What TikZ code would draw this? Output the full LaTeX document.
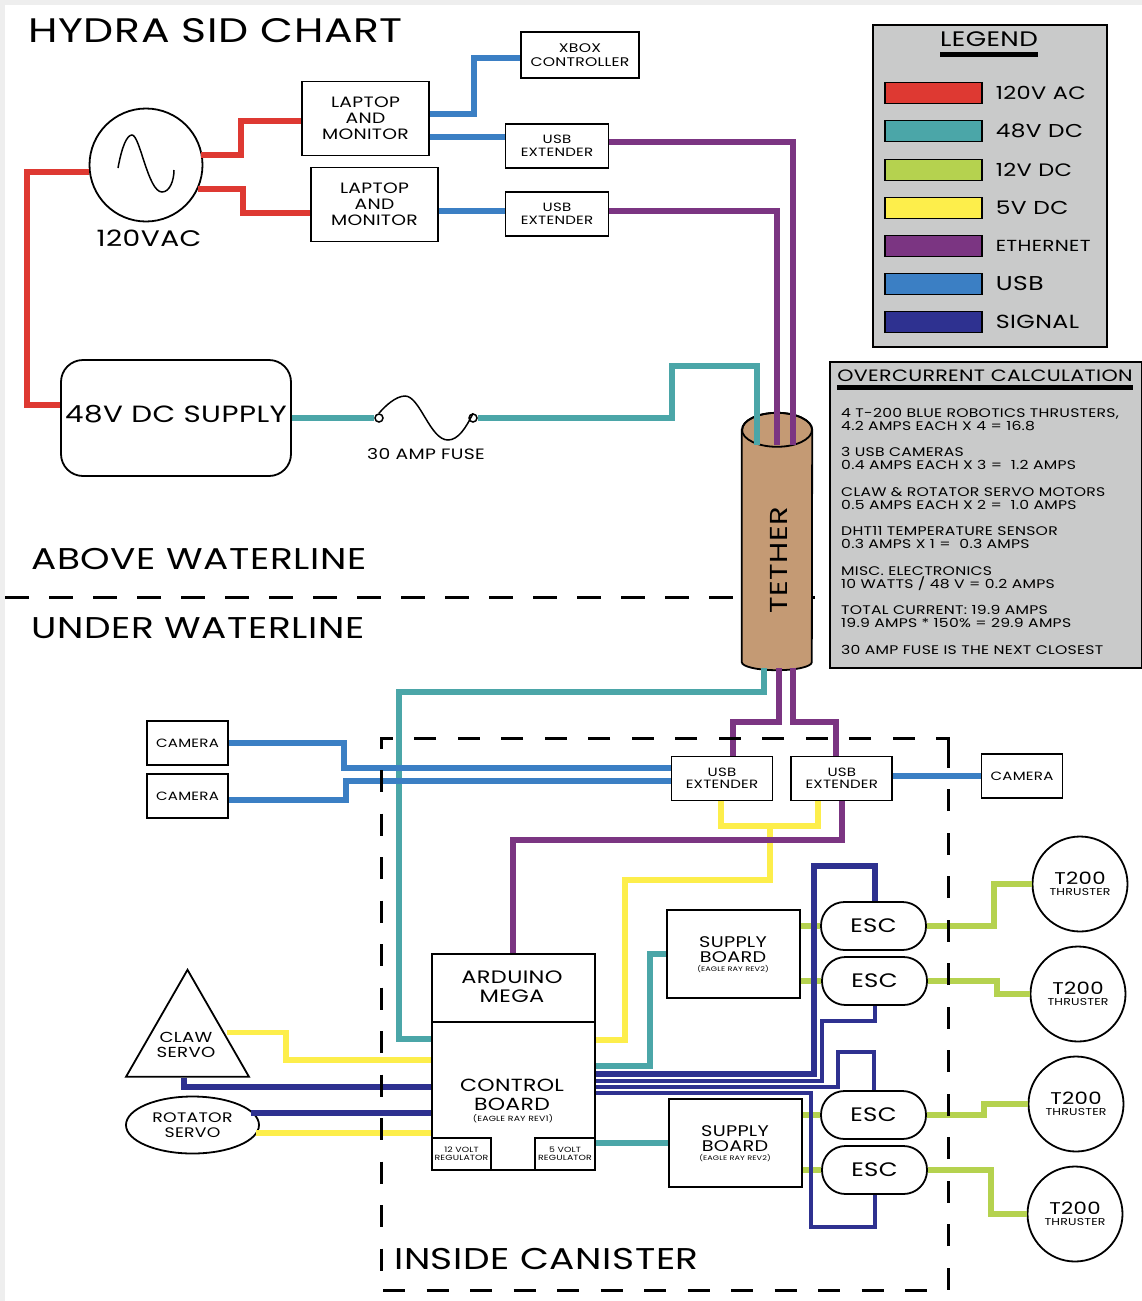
\documentclass[tikz,border=0pt]{standalone}
\usepackage{fontspec}
\setmainfont{Poppins}[LetterSpace=2, FakeStretch=1.25]
\definecolor{pagegrey}{RGB}{238, 238, 238}
\definecolor{panelgrey}{RGB}{201, 202, 202}
\definecolor{wirered}{RGB}{222, 57, 50}
\definecolor{wireteal}{RGB}{75, 166, 168}
\definecolor{wirelime}{RGB}{181, 210, 79}
\definecolor{wireyellow}{RGB}{253, 238, 75}
\definecolor{wirepurple}{RGB}{123, 53, 130}
\definecolor{wireblue}{RGB}{59, 127, 196}
\definecolor{wirenavy}{RGB}{46, 49, 144}
\definecolor{tethertan}{RGB}{196, 154, 116}
\usepackage{tikz}
\usetikzlibrary{positioning, shapes.geometric, calc}
\newcommand{\fsz}[2]{\fontsize{#1}{#2}\selectfont}

\begin{document}
\begin{tikzpicture}[x=1pt, y=-1pt, every node/.style={inner sep=0pt, align=center},
    box/.style={draw, line width=1.8pt, fill=white},
    usbbox/.style={box, minimum width=103pt, minimum height=44pt, font=\fsz{12}{12.5}},
    cambox/.style={box, minimum width=81pt, minimum height=44pt, font=\fsz{12}{13}},
    lapbox/.style={box, minimum width=127pt, minimum height=74pt, font=\fsz{15}{16}},
    supplybox/.style={box, minimum width=133pt, minimum height=88pt},
    boardtext/.style={font=\fsz{15.4}{15}},
    revtext/.style={font=\fsz{6.5}{7}},
    escbox/.style={box, minimum width=105pt, minimum height=48pt, rounded corners=23.5pt, font=\fsz{19.5}{21}},
    thruster/.style={draw, circle, line width=1.8pt, fill=white, minimum size=95pt, font=\fsz{17}{11}},
    bigtext/.style={font=\fsz{30}{30}, anchor=west},
    swatch/.style={draw, line width=1.4pt, minimum width=97pt, minimum height=21pt},
    wire/.style={line width=5.5pt},
    acwire/.style={wire, wirered},
    dcwire/.style={wire, wireteal},
    limewire/.style={wire, wirelime},
    fivewire/.style={wire, wireyellow},
    ethwire/.style={wire, wirepurple},
    usbwire/.style={wire, wireblue},
    sigwire/.style={wire, wirenavy},
    thinsig/.style={line width=3.5pt, wirenavy}]
    % Page
    \fill[pagegrey] (0,0) rectangle (1142,1301);
    \fill[white] (5,5) rectangle (1142,1301);
    \useasboundingbox (0,0) rectangle (1142,1301);

    % Titles
    \node[bigtext, font=\fsz{34}{34}] (title) at (28,31) {HYDRA SID CHART};
    \node[bigtext] (above) at (31,559) {ABOVE WATERLINE};
    \node[bigtext] (under) at (31,628) {UNDER WATERLINE};
    \node[bigtext] (inside) at (394,1259) {INSIDE CANISTER};

    % Surface side
    \node[draw, ellipse, line width=1.8pt, fill=white, minimum width=113pt, minimum height=113pt] (mains) at (146,165) {};
    \node[font=\fsz{22.5}{24}, below=7pt of mains, xshift=3pt] (mainslabel) {120VAC};
    \node[box, minimum width=118pt, minimum height=46pt, font=\fsz{12.5}{13.5}] (xbox) at (580,55) {XBOX\\CONTROLLER};
    \node[lapbox] (lapa) at (365.5,118.5) {LAPTOP\\AND\\MONITOR};
    \node[lapbox] (lapb) at (374.5,204.5) {LAPTOP\\AND\\MONITOR};
    \node[usbbox] (usba) at (557,146) {USB\\EXTENDER};
    \node[usbbox] (usbb) at (557,214) {USB\\EXTENDER};
    \node[box, minimum width=230pt, minimum height=116pt, rounded corners=22pt] (supply) at (176,418) {};
    \node[font=\fsz{23.5}{25}] (supplylabel) at (176,414) {48V DC SUPPLY};
    \node[font=\fsz{15}{15}] (fuselabel) at (426,454) {30 AMP FUSE};
    \node[draw, circle, line width=1.5pt, minimum size=8pt] (fusea) at (379,418) {};
    \node[draw, circle, line width=1.5pt, minimum size=8pt] (fuseb) at (473,418) {};

    % Source wave and fuse wire
    \draw[line width=1.5pt] (118,168) .. controls (122,146) and (127,135) .. (132,135) .. controls (140,135) and (148,192) .. (162,192) .. controls (170,192) and (174,180) .. (174,170);
    \draw[line width=1.5pt] (fusea.north) .. controls (385,406) and (396,396) .. (405,396) .. controls (420,396) and (430,440) .. (448,440) .. controls (458,440) and (466,428) .. (fuseb.north);

    % Wires above the waterline
    \draw[acwire] (mains.west |- 0,172) -- (27,172) -- (27,405) -- (supply.west |- 0,405);
    \draw[acwire] ($(mains.east)+(-2,-10)$) -- (241,155) -- (241,121) -- (lapa.west |- 0,121);
    \draw[acwire] ($(mains.east)+(-5,24)$) -- (243,189) -- (243,213) -- (lapb.west |- 0,213);
    \draw[usbwire] (lapa.east |- 0,114) -- (474,114) -- (474,58) -- (xbox.west |- 0,58);
    \draw[usbwire] (lapa.east |- 0,137) -- (usba.west |- 0,137);
    \draw[usbwire] (lapb.east |- 0,211) -- (usbb.west |- 0,211);
    \draw[dcwire] (supply.east |- 0,418) -- (fusea.west);

    % Waterline
    \draw[line width=3pt, dash pattern=on 24pt off 20pt] (5,597) -- (815,597);

    % Tether
    \node[minimum width=70pt, minimum height=258pt] (tether) at (777,541) {};
    \draw[fill=tethertan, line width=1.8pt] ($(tether.north west)+(0,18)$) -- ($(tether.south west)+(0,-8)$) arc[start angle=180, end angle=0, x radius=35, y radius=8] -- ($(tether.north east)+(0,18)$) arc[start angle=0, end angle=-180, x radius=35, y radius=17] -- cycle;
    \draw[line width=1.8pt] ($(tether.north)+(0,18)$) ellipse[x radius=35, y radius=17];
    \node[rotate=90, font=\fsz{24.5}{26}] (tetherlabel) at (779,560) {TETHER};
    \draw[ethwire] (usba.east |- 0,142) -- (793,142) -- ($(tether.north)+(16,33)$);
    \draw[ethwire] (usbb.east |- 0,211) -- (777,211) -- ($(tether.north)+(0,33)$);
    \draw[dcwire] (fuseb.east) -- (672,418) -- (672,366) -- (757,366) -- ($(tether.north)+(-20,33)$);

    % Legend
    \node[draw, line width=1.8pt, fill=panelgrey, minimum width=234pt, minimum height=322pt] (legend) at (990,186) {};
    \node[font=\fsz{21}{22}] (legendtitle) at (989,39) {LEGEND};
    \node[fill=black, minimum width=98pt, minimum height=5pt, below=5pt of legendtitle] (legendbar) {};
    \foreach \name/\col/\ypos/\size/\txt in {ac/wirered/93/18/120V AC, dc/wireteal/131/18.6/48V DC, twelve/wirelime/170/18/12V DC, five/wireyellow/208/18.7/5V DC, eth/wirepurple/246/16/ETHERNET, usb/wireblue/284/20/USB, sig/wirenavy/322/19/SIGNAL} {
        \node[swatch, fill=\col] (swatch\name) at (933.5,\ypos) {};
        \node[font=\fsz{\size}{20}, anchor=west, right=13pt of swatch\name] (text\name) {\txt};
    }

    % Overcurrent calculation
    \node[draw, line width=1.8pt, fill=panelgrey, minimum width=312pt, minimum height=306pt] (calcbox) at (986,515) {};
    \node[font=\fsz{16.5}{17}] (calctitle) at (985,376) {OVERCURRENT CALCULATION};
    \node[fill=black, minimum width=296pt, minimum height=5pt] (calcbar) at (985,387) {};
    \node[anchor=north west, align=left, font=\fsz{12.5}{13}] (calctext) at (841,408) {4 T-200 BLUE ROBOTICS THRUSTERS,\\4.2 AMPS EACH X 4 = 16.8\\[13.5pt]
        3 USB CAMERAS\\0.4 AMPS EACH X 3 = ~1.2 AMPS\\[13.5pt]
        CLAW \& ROTATOR SERVO MOTORS\\0.5 AMPS EACH X 2 = ~1.0 AMPS\\[13.5pt]
        DHT11 TEMPERATURE SENSOR\\0.3 AMPS X 1 = ~0.3 AMPS\\[13.5pt]
        MISC. ELECTRONICS\\10 WATTS / 48 V = 0.2 AMPS\\[13.5pt]
        TOTAL CURRENT: 19.9 AMPS\\19.9 AMPS * 150\% = 29.9 AMPS\\[13.5pt]
        30 AMP FUSE IS THE NEXT CLOSEST};

    % Inside canister
    \node[cambox] (cama) at (187.5,743) {CAMERA};
    \node[cambox, below=7.2pt of cama] (camb) {CAMERA};
    \node[cambox] (camc) at (1022,776) {CAMERA};
    \node[usbbox, minimum width=101pt] (usbc) at (722,778.5) {USB\\EXTENDER};
    \node[usbbox, minimum width=101pt, right=17pt of usbc] (usbd) {USB\\EXTENDER};
    \node[box, minimum width=163pt, minimum height=68pt] (arduino) at (513.5,988) {};
    \node[font=\fsz{18}{19}] (arduinolabel) at (512,987) {ARDUINO\\MEGA};
    \node[box, minimum width=163pt, minimum height=148pt, below=-1.8pt of arduino] (control) {};
    \node[font=\fsz{17.6}{19}] (controllabel) at (512,1095) {CONTROL\\BOARD};
    \node[font=\fsz{7.5}{7}] (controlrev) at (513,1119) {(EAGLE RAY REV1)};
    \node[box, minimum width=59pt, minimum height=32pt, font=\fsz{7.5}{8.5}, anchor=south west] (rega) at (control.south west) {12 VOLT\\REGULATOR};
    \node[box, minimum width=60pt, minimum height=32pt, font=\fsz{7.5}{8.5}, anchor=south east] (regb) at (control.south east) {5 VOLT\\REGULATOR};
    \node[supplybox] (boarda) at (733.5,954) {};
    \node[boardtext] (boardalabel) at (733,950) {SUPPLY\\BOARD};
    \node[revtext] (boardarev) at (733,969) {(EAGLE RAY REV2)};
    \node[supplybox] (boardb) at (735.5,1143) {};
    \node[boardtext] (boardblabel) at (735,1139) {SUPPLY\\BOARD};
    \node[revtext] (boardbrev) at (735,1158) {(EAGLE RAY REV2)};
    \node[escbox] (esca) at (873.5,926) {ESC};
    \node[escbox, below=5.2pt of esca, xshift=1pt] (escb) {ESC};
    \node[escbox] (escc) at (873.5,1115) {ESC};
    \node[escbox, below=5.2pt of escc, xshift=1pt] (escd) {ESC};
    \node[thruster] (ta) at (1080,884) {T200\\{\fsz{10}{10}THRUSTER}};
    \node[thruster] (tb) at (1078,994) {T200\\{\fsz{10}{10}THRUSTER}};
    \node[thruster] (tc) at (1076,1104) {T200\\{\fsz{10}{10}THRUSTER}};
    \node[thruster] (td) at (1075,1214) {T200\\{\fsz{10}{10}THRUSTER}};
    \node[draw, isosceles triangle, isosceles triangle apex angle=60, isosceles triangle stretches, shape border rotate=90, line width=1.8pt, fill=white, minimum width=123pt, minimum height=107pt, anchor=apex] (claw) at (187.5,968) {};
    \node[font=\fsz{14.5}{15}] (clawlabel) at (186,1045) {CLAW\\SERVO};
    \node[draw, ellipse, line width=1.8pt, fill=white, minimum width=133pt, minimum height=57pt, font=\fsz{13.8}{15}] (rotator) at (192.5,1125) {ROTATOR\\SERVO};

    % Wires from the tether
    \draw[dcwire] ($(tether.south)+(-13,-2)$) -- (764,692) -- (399,692) -- (399,1039) -- (control.west |- 0,1039);
    \draw[ethwire] ($(tether.south)+(2,-2)$) -- (779,722) -- (733,722) -- (usbc.north -| 733,0);
    \draw[ethwire] ($(tether.south)+(16,-2)$) -- (793,722) -- (836,722) -- (usbd.north -| 836,0);

    % Camera wires
    \draw[usbwire] (cama.east) -| (344,768) -- (usbc.west |- 0,768);
    \draw[usbwire] (camb.east |- 0,800) -- (346,800) -- (346,781) -- (usbc.west |- 0,781);
    \draw[usbwire] (usbd.east |- 0,776) -- (camc.west);

    % Power and data inside the canister
    \draw[fivewire] (usbc.south -| 721,0) -- (721,826) -- (818,826) -- (usbd.south -| 818,0);
    \draw[fivewire] (770,826) -- (770,880) -- (625,880) -- (625,1040) -- (control.east |- 0,1040);
    \draw[ethwire] (usbd.south -| 842,0) -- (842,840) -- (513,840) -- (arduino.north -| 513,0);
    \draw[dcwire] (control.east |- 0,1066) -- (650,1066) -- (650,954) -- (boarda.west |- 0,954);
    \draw[dcwire] (control.east |- 0,1143) -- (boardb.west |- 0,1143);
    \draw[fivewire] ($(claw.right corner)+(-24,-45)$) -| (286,1060) -- (control.west |- 0,1060);
    \draw[sigwire] ($(claw.lower side)+(-3.5,0)$) -- (184,1087) -- (control.west |- 0,1087);
    \draw[sigwire] ($(rotator.east)+(-9,-12)$) -- (control.west |- 0,1113);
    \draw[fivewire] ($(rotator.east)+(-4,8)$) -- (control.west |- 0,1133);

    % Twelve volt wires
    \draw[limewire] (boarda.east |- esca.west) -- (esca.west);
    \draw[limewire] (boarda.east |- escb.west) -- (escb.west);
    \draw[limewire] (boardb.east |- escc.west) -- (escc.west);
    \draw[limewire] (boardb.east |- escd.west) -- (escd.west);
    \draw[limewire] (esca.east) -| (994,884) -- (ta.west);
    \draw[limewire] (escb.east) -| (997,994) -- (tb.west);
    \draw[limewire] (escc.east) -| (984,1104) -- (tc.west);
    \draw[limewire] (escd.east) -| (991,1214) -- (td.west);

    % Signal wires to the ESCs
    \draw[sigwire] (control.east |- 0,1074) -- (814,1074) -- (814,866) -- (875,866) -- (esca.north -| 875,0);
    \draw[thinsig] (control.east |- 0,1081) -- (822,1081) -- (822,1021) -- (875,1021) -- (escb.south -| 875,0);
    \draw[thinsig] (control.east |- 0,1087) -- (838,1087) -- (838,1052) -- (874,1052) -- (escc.north -| 874,0);
    \draw[thinsig] (control.east |- 0,1093) -- (811,1093) -- (811,1227) -- (875,1227) -- (escd.south -| 875,0);

    % Canister outline
    \draw[line width=3pt, dash pattern=on 22pt off 21.5pt] (948,748) -- (948,738) -- (381,738) -- (381,1290) -- (948,1290) -- (948,748);
\end{tikzpicture}
\end{document}
